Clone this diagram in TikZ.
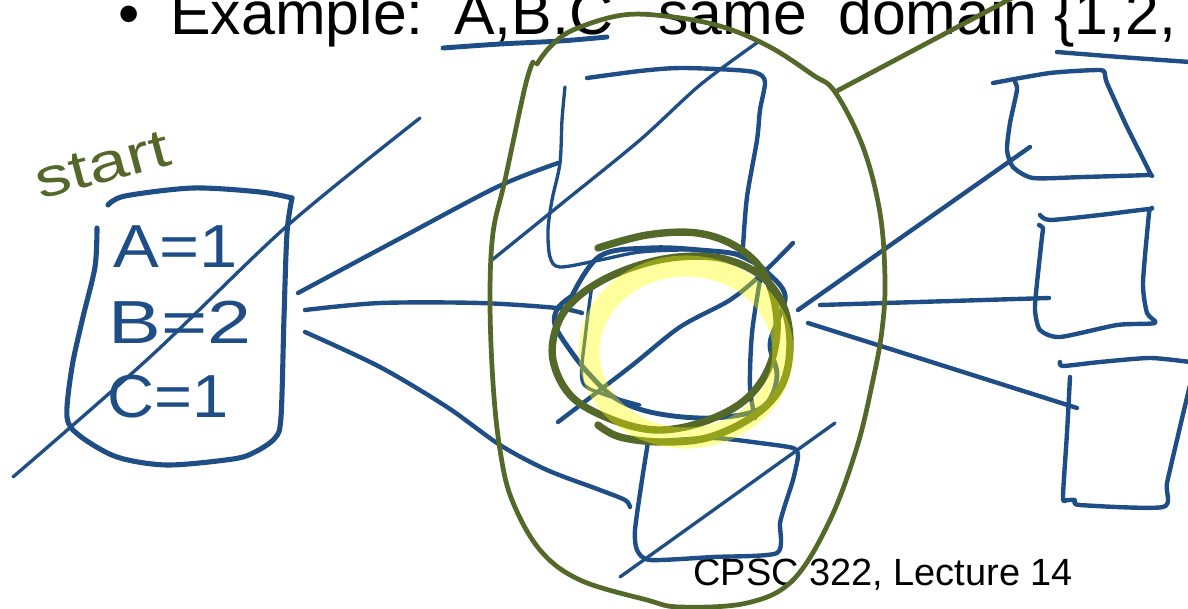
\documentclass[tikz,border=0pt]{standalone}
\usepackage{fontspec}
\setmainfont{Liberation Sans}
\usetikzlibrary{calc}
\definecolor{penBlue}{RGB}{31,78,134}
\definecolor{penOlive}{RGB}{84,104,42}
\definecolor{markYellow}{RGB}{255,255,0}
\begin{document}
\begin{tikzpicture}[x=0.02cm,y=-0.02cm,line cap=round,line join=round,
  ink/.style={penBlue,line width=2.5pt},
  thinink/.style={penBlue,line width=1.9pt},
  olivepen/.style={penOlive,line width=2.7pt},
  slide/.style={inner sep=0pt,anchor=base west,text=black},
  hand/.style={inner sep=0pt,anchor=base west,text=penBlue,font=\fontsize{34.6}{36}\selectfont}]
  \useasboundingbox (0,0) rectangle (1188,609);
  \clip (0,0) rectangle (1188,609);
  \node[slide,font=\fontsize{34.6}{36}\selectfont] (bullet) at (118,34) {•};
  \node[slide,font=\fontsize{34.6}{36}\selectfont] (title) at (170,34) {Example:\hspace{0.5em}A,B,C};
  \node[slide,font=\fontsize{34.6}{36}\selectfont] (same) at (658,34) {same};
  \node[slide,font=\fontsize{34.6}{36}\selectfont] (domain) at (838,34) {domain \{1,2,};
  \node[slide,font=\fontsize{21.6}{23}\selectfont] (footer) at (693,585) {CPSC 322, Lecture 14};
  \draw[ink,line width=2.8pt] plot[smooth] coordinates {(443,48) (500,44) (560,41) (607,37)};
  \draw[ink] plot[smooth] coordinates {(1057,52) (1120,57) (1190,62)};
  % start state
  \node[hand,text=penOlive,rotate=15,font=\fontsize{31}{32}\selectfont] (start) at (40,200) {\scalebox{1.3}[1]{start}};
  \draw[ink,line width=2.9pt] plot[smooth] coordinates {(108,205) (125,196) (193,188) (260,192) (292,198)};
  \draw[ink,line width=2.9pt] plot[smooth,tension=0.5] coordinates {(292,198) (287,233) (284,317) (281,417) (275,438) (255,452) (233,459) (167,465) (117,457) (80,436) (67,417) (72,367) (83,317) (95,267) (97,228)};
  \node[hand] (va) at (113,267) {\scalebox{1.13}[1]{A=1}};
  \node[hand] (vb) at (108,343) {\scalebox{1.3}[1]{B=2}};
  \node[hand] (vc) at (107,417) {\scalebox{1.07}[1]{C=1}};
  \draw[thinink] plot[smooth] coordinates {(13,477) (150,357) (287,226) (420,118)};
  \draw[ink] plot[smooth] coordinates {(298,293) (397,240) (497,187) (558,163)};
  \draw[ink] plot[smooth] coordinates {(305,310) (380,303) (480,303) (557,308) (582,313)};
  \draw[ink] plot[smooth] coordinates {(305,332) (380,367) (447,407) (500,445) (547,470) (600,490) (625,500) (630,507)};
  % middle states
  \draw[ink] plot[smooth,tension=0.5] coordinates {(587,78) (640,71) (680,68) (735,70) (757,73) (765,82) (760,110) (757,140) (747,197) (743,247)};
  \draw[thinink] plot[smooth,tension=0.5] coordinates {(565,87) (562,120) (560,163) (552,200) (548,230) (550,257) (560,267) (600,260) (640,252) (690,250) (730,253) (757,265)};
  \draw[thinink] plot[smooth] coordinates {(492,260) (560,205) (640,140) (700,85) (758,42)};
  \draw[ink,line width=2.8pt] plot[smooth,tension=0.6] coordinates {(572,296) (600,256) (650,248) (700,250) (743,256) (770,275) (785,295) (778,320) (770,345) (777,375) (768,402) (745,414) (700,418) (650,412) (615,398) (590,375) (570,350) (555,325) (558,308) (572,296)};
  \draw[ink] plot[smooth] coordinates {(760,280) (752,333) (750,387) (755,418)};
  \draw[thinink] plot[smooth] coordinates {(592,285) (586,330) (582,380) (600,393) (640,405)};
  \draw[ink] plot[smooth] coordinates {(558,422) (630,367) (680,327) (730,300) (763,273) (793,243)};
  \draw[ink] plot[smooth,tension=0.4] coordinates {(648,442) (713,438) (760,443) (793,448) (798,456) (793,480) (785,505) (780,523) (777,553) (713,557) (650,560) (637,550) (635,530) (642,480) (648,442)};
  \draw[thinink] (620,577) -- (835,423);
  % states on the right
  \draw[ink] (798,310) -- (1030,147);
  \draw[ink] (820,305) -- (1049,298);
  \draw[ink] (808,323) -- (1077,408);
  \draw[ink] plot[smooth,tension=0.4] coordinates {(993,83) (1050,73) (1100,70) (1105,75) (1107,83) (1127,127) (1150,173) (1147,175) (1083,177) (1033,178) (1013,167) (1007,150) (1010,123) (1017,90) (1015,82)};
  \draw[ink] plot[smooth,tension=0.4] coordinates {(1040,215) (1050,220) (1100,215) (1150,209) (1149,213) (1143,283) (1147,313) (1155,323) (1117,325) (1060,337) (1040,330) (1035,310) (1037,283) (1042,237) (1043,228) (1039,225)};
  \draw[ink] plot[smooth,tension=0.4] coordinates {(1060,362) (1063,366) (1100,362) (1150,358) (1190,362)};
  \draw[ink] plot[smooth,tension=0.4] coordinates {(1070,377) (1067,433) (1063,497) (1067,500) (1075,500) (1080,505) (1163,507) (1167,483) (1180,427) (1190,385)};
  % domain loop
  \draw[olivepen] plot[smooth,tension=0.6] coordinates {(537,64) (550,47) (573,30) (623,15) (673,17) (723,27) (770,47) (813,75) (835,92) (863,147) (880,213) (885,280) (882,330) (873,380) (857,447) (830,520) (793,580) (747,603) (680,607) (647,600) (580,580) (540,550) (512,500) (500,450) (493,383) (490,300) (493,233) (505,180) (525,87) (533,62)};
  \draw[olivepen] (835,92) -- (1012,-2);
  \draw[olivepen,line width=4.2pt] plot[smooth,tension=0.6] coordinates {(598,248) (647,235) (697,233) (737,247) (765,275) (777,320) (770,365) (745,400) (703,422) (657,430) (613,420) (572,397) (553,360) (558,323) (580,295) (620,272) (670,258) (720,258) (760,275) (783,305) (790,345) (782,385) (755,415) (710,437) (663,442) (620,437) (598,425)};
  \draw[markYellow,opacity=0.38,line width=12pt] (686,352) ellipse [x radius=97,y radius=86];
\end{tikzpicture}
\end{document}
